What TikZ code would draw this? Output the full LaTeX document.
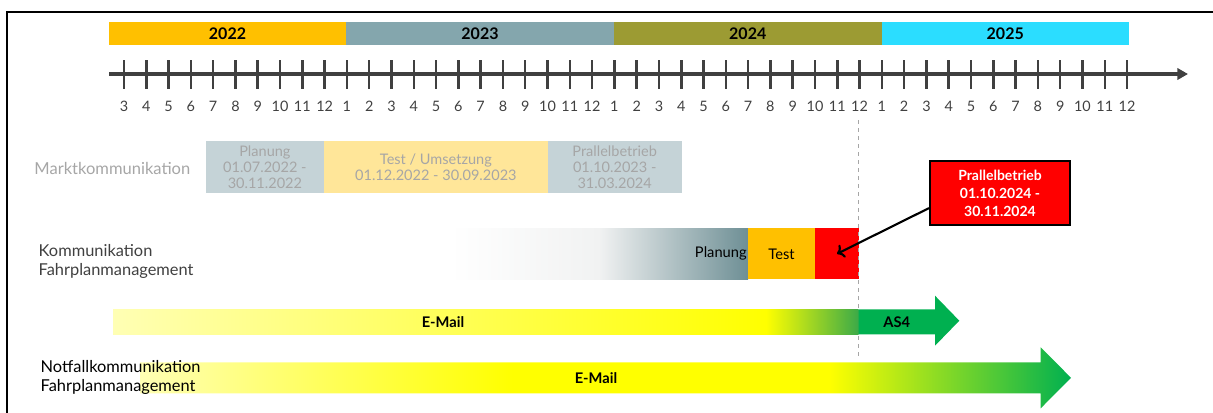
\documentclass[tikz,border=0pt]{standalone}
\usepackage{fontspec}
\setmainfont{Lato}
\usepackage{xcolor}
\usetikzlibrary{positioning,arrows.meta}

\definecolor{yr22}{HTML}{FFC000}
\definecolor{yr23}{HTML}{84A6AD}
\definecolor{yr24}{HTML}{9C9B33}
\definecolor{yr25}{HTML}{2BDDFF}
\definecolor{axisgray}{HTML}{404040}
\definecolor{mkblue}{HTML}{C5D3D7}
\definecolor{mkyellow}{HTML}{FFE699}
\definecolor{mktext}{HTML}{A6A6A6}
\definecolor{slate}{HTML}{6E8F95}
\definecolor{kfmlight}{HTML}{F1F2F2}
\definecolor{testorange}{HTML}{FFC000}
\definecolor{asgreen}{HTML}{00B050}
\definecolor{kmix}{HTML}{3CAA48}
\definecolor{paleyellow}{HTML}{FFFFB4}

\pgfdeclarehorizontalshading{kfmfade}{100bp}{color(0bp)=(white); color(25bp)=(white); color(50bp)=(kfmlight); color(75bp)=(slate); color(100bp)=(slate)}
\pgfdeclarehorizontalshading{notfall}{100bp}{color(0bp)=(paleyellow); color(25bp)=(paleyellow); color(45bp)=(yellow); color(62bp)=(yellow); color(75bp)=(asgreen); color(100bp)=(asgreen)}

\begin{document}
\begin{tikzpicture}[x=0.75pt,y=-0.75pt,
  yearlabel/.style={font=\bfseries\fontsize{12}{14}\selectfont},
  month/.style={font=\fontsize{10.8}{12}\selectfont,text=axisgray},
  tick/.style={draw=axisgray,line width=1.9pt},
  axisline/.style={draw=axisgray,line width=3pt,-{Triangle[length=8pt,width=8.5pt]}},
  mklabel/.style={font=\fontsize{12.4}{14}\selectfont,text=mktext},
  mktext/.style={font=\fontsize{10.9}{12}\selectfont,text=mktext,align=center},
  rowlabel/.style={font=\fontsize{12.3}{14.25}\selectfont,align=left,anchor=west},
  kseg/.style={minimum height=38.25pt,inner sep=0pt,outer sep=0pt,font=\fontsize{11}{12}\selectfont},
  barlabel/.style={font=\bfseries\fontsize{11}{13}\selectfont},
  callout/.style={draw=black,line width=1.5pt,fill=red,text=white,align=center,
    minimum width=105pt,minimum height=48pt,inner sep=2pt,
    font=\bfseries\fontsize{10.5}{13.5}\selectfont},
  dashline/.style={draw=gray!70,line width=0.75pt,dashed}]
\useasboundingbox (0,0) rectangle (1213,412);

% frame
\draw[line width=1.5pt] (6.5,420) -- (6.5,11.5) -- (1220,11.5);

% years
\foreach \a/\b/\c/\y in {109/346/yr22/2022,346/614/yr23/2023,614/881.5/yr24/2024,881.5/1129/yr25/2025}{
  \fill[\c] (\a,22) rectangle (\b,44.7);
  \node[yearlabel] (y\y) at ({(\a+\b)/2},33.4) {\y};
}

% time axis
\draw[axisline] (109,74) -- (1188,74);
\foreach \i in {0,...,45}{
  \pgfmathtruncatemacro\m{mod(\i+2,12)+1}
  \draw[tick] ({124+22.29*\i},60) -- ({124+22.29*\i},89);
  \node[month] (m\i) at ({124+22.29*\i},106) {\m};
}

% Marktkommunikation
\node[mklabel,anchor=east] (mk) at (195,168) {Marktkommunikation};
\fill[mkblue] (205.7,141) rectangle (324,193.3);
\fill[mkyellow] (324,141) rectangle (547.7,193.3);
\fill[mkblue] (547.7,141) rectangle (681.7,193.3);
\node[mktext] (mkplan) at (264.9,167.2) {Planung\\01.07.2022 -\\30.11.2022};
\node[mktext] (mktest) at (435.9,167.2) {Test / Umsetzung\\01.12.2022 - 30.09.2023};
\node[mktext] (mkpar) at (614.7,167.2) {Prallelbetrieb\\01.10.2023 -\\31.03.2024};

% Kommunikation Fahrplanmanagement
\node[rowlabel,text=axisgray] (kfm) at (34,261.4) {Kommunikation\\Fahrplanmanagement};
\shade[shading=kfmfade] (450,228.3) rectangle (748,279.3);
\node[kseg,fill=testorange,minimum width=50.25pt] (ktest) at (781.5,253.8) {Test};
\node[kseg,fill=red,minimum width=33pt,right=0pt of ktest] (kpar) {};
\node[kseg,left=1pt of ktest,minimum height=0pt] (kplan) {Planung};

\draw[dashline] (858.5,120) -- (858.5,357);

\node[callout] (cpar) at (1000,193) {Prallelbetrieb\\01.10.2024 -\\30.11.2024};
\draw[->,line width=1.6pt] (cpar.192) -- (kpar.center);

% E-Mail / AS4
\shade[left color=paleyellow,right color=yellow] (113,309.3) rectangle (766,334.3);
\shade[left color=yellow,right color=kmix] (766,309.3) rectangle (858.5,334.3);
\fill[asgreen] (858.5,309.3) -- (935,309.3) -- (935,295.7) -- (959.3,320.7) -- (935,345.7) -- (935,334.3) -- (858.5,334.3) -- cycle;
\node[barlabel] (mail1) at (443,322) {E-Mail};
\node[barlabel] (as4) at (896.7,322) {AS4};

% Notfallkommunikation
\shade[shading=notfall] (140,362.3) -- (1040.7,362.3) -- (1040.7,347.3) -- (1071,377.8) -- (1040.7,408.3) -- (1040.7,393.3) -- (140,393.3) -- cycle;
\node[rowlabel,text=black] (nfk) at (36,377) {Notfallkommunikation\\Fahrplanmanagement};
\node[barlabel] (mail2) at (596,378) {E-Mail};

\end{tikzpicture}
\end{document}
